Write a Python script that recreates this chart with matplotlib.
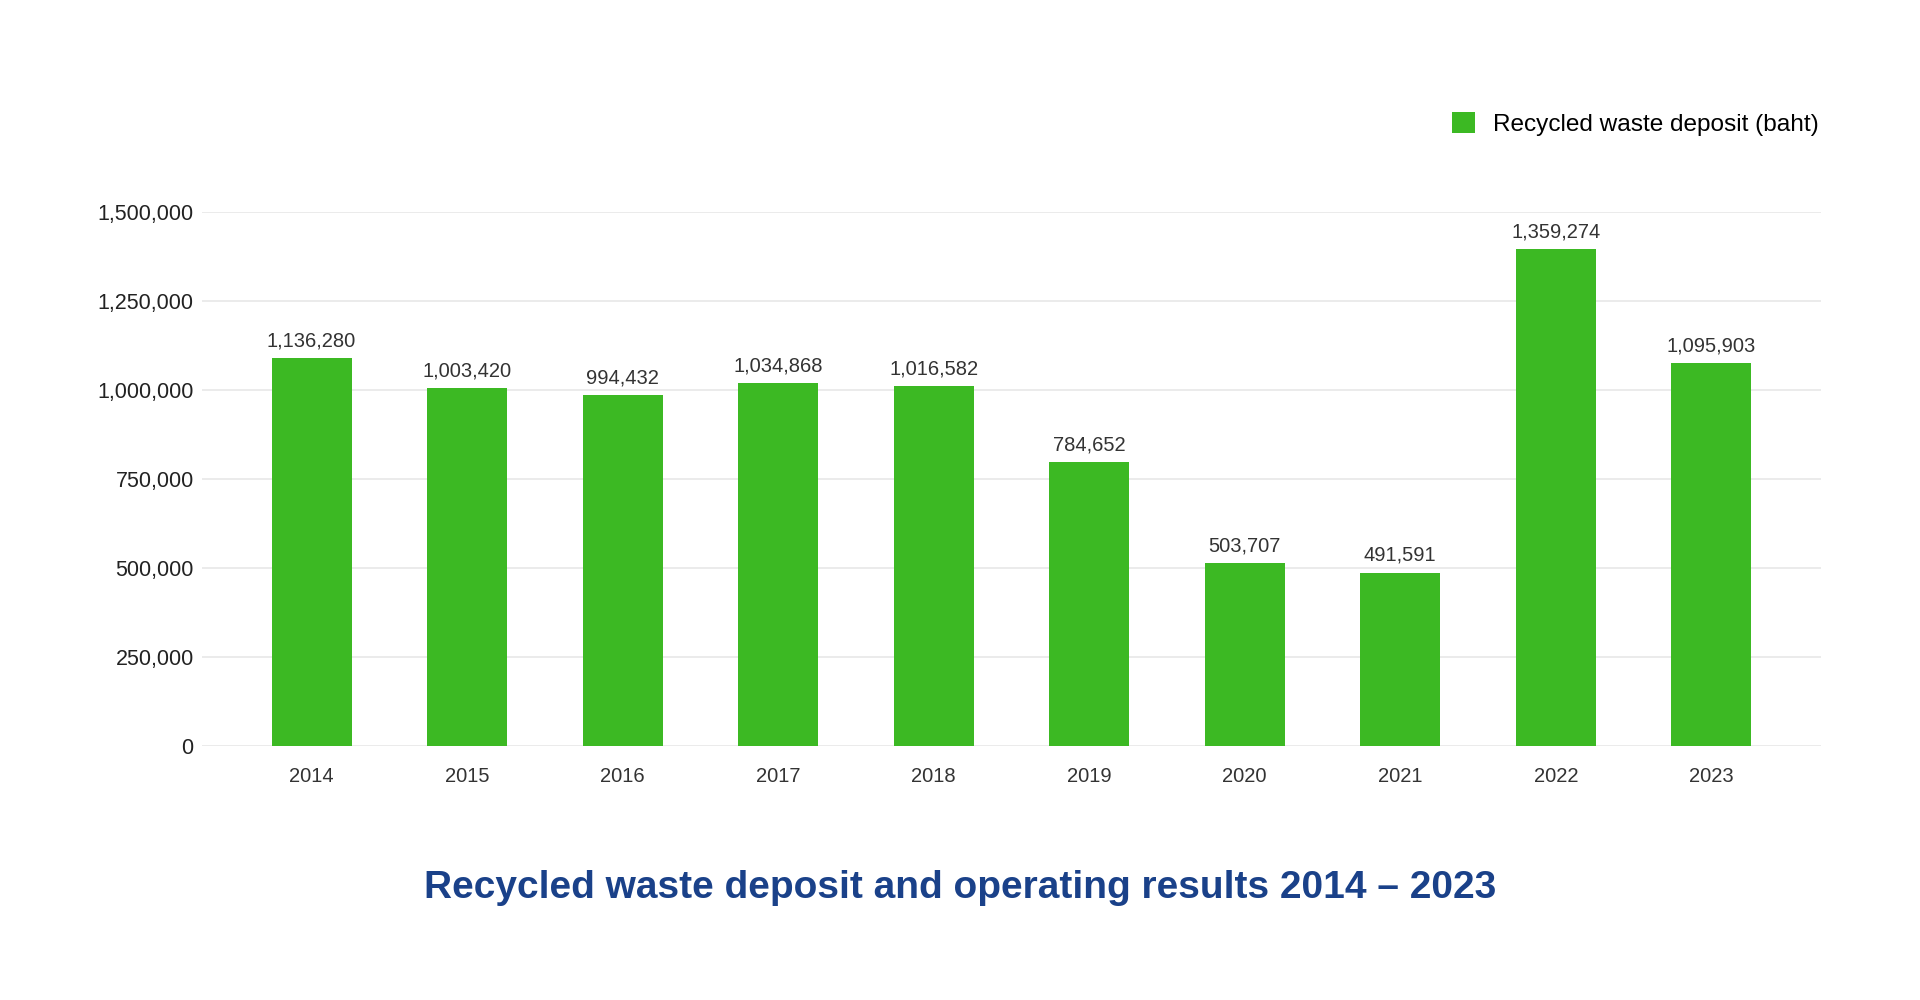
import matplotlib
matplotlib.use("Agg")
import matplotlib.pyplot as plt
from matplotlib.ticker import FuncFormatter, MultipleLocator
from matplotlib.patches import Patch

years = ["2014", "2015", "2016", "2017", "2018", "2019", "2020", "2021", "2022", "2023"]
# bar heights as drawn in the picture
bar_values = [1090000, 1006000, 986000, 1020000, 1011000, 798000, 515000, 487000, 1396000, 1075000]
# value labels as printed above bars
value_labels = ["1,136,280", "1,003,420", "994,432", "1,034,868", "1,016,582",
                "784,652", "503,707", "491,591", "1,359,274", "1,095,903"]
series_name = "Recycled waste deposit (baht)"
title = "Recycled waste deposit and operating results 2014 \u2013 2023"

GREEN = "#3cb923"
BLUE = "#1a4189"
plt.rcParams["font.family"] = ["Liberation Sans", "DejaVu Sans"]

fig = plt.figure(figsize=(19.2, 10), dpi=100)
ax = fig.add_axes([0.1052, 0.254, 0.9484 - 0.1052, 0.788 - 0.254])

x = list(range(len(years)))
bars = ax.bar(x, bar_values, width=0.514, color=GREEN, zorder=3)
for b, lab in zip(bars, value_labels):
    ax.annotate(lab, (b.get_x() + b.get_width() / 2, b.get_height()),
                xytext=(0, 5.5), textcoords="offset points", ha="center", va="bottom",
                fontsize=14.5, color="#333333")

ax.set_xlim(-0.705, 9.705)
ax.set_ylim(0, 1500000)
ax.yaxis.set_major_locator(MultipleLocator(250000))
ax.yaxis.set_major_formatter(FuncFormatter(lambda v, p: f"{int(v):,}"))
ax.set_xticks(x)
ax.set_xticklabels(years)
ax.grid(axis="y", color="#e8e8e8", linewidth=1.2, zorder=0)
for s in ax.spines.values():
    s.set_visible(False)
ax.tick_params(axis="y", length=0, pad=6, labelsize=15.5, labelcolor="#222222")
ax.tick_params(axis="x", length=0, pad=15, labelsize=14.5, labelcolor="#333333")

handle = Patch(facecolor=GREEN, edgecolor="none")
fig.legend([handle], [series_name], loc="upper right",
           bbox_to_anchor=(0.9484 + 0.004, 0.898), frameon=False, fontsize=17.6,
           handlelength=0.95, handleheight=0.95, handletextpad=0.75, borderaxespad=0)

fig.text(0.5, 0.112, title, ha="center", va="center", fontsize=28,
         fontweight="bold", color=BLUE,
         family=["Liberation Sans", "DejaVu Sans"])

fig.savefig("out.png", dpi=100, facecolor="white")
